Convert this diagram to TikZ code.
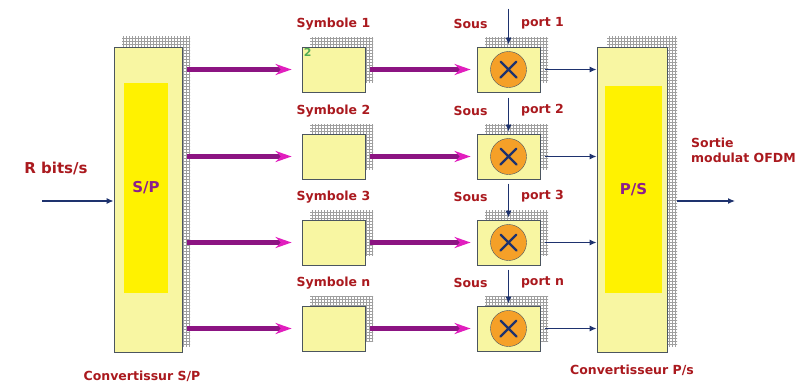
\documentclass[tikz,border=0pt]{standalone}
\usepackage{fontspec}
\setmainfont{DejaVu Sans}
\usepackage{tikz}
\usetikzlibrary{arrows.meta,patterns,positioning}

\definecolor{boxfill}{RGB}{248,246,162}
\definecolor{boxedge}{RGB}{75,85,95}
\definecolor{lblred}{RGB}{170,25,30}
\definecolor{purpleline}{RGB}{140,20,130}
\definecolor{pinkhead}{RGB}{225,30,190}
\definecolor{navy}{RGB}{30,50,110}
\definecolor{orangedisc}{RGB}{245,160,40}
\definecolor{sptext}{RGB}{140,30,140}

\begin{document}
\begin{tikzpicture}[x=1pt,y=-1pt,>=latex]
\tikzstyle{block} = [draw=boxedge, fill=boxfill, line width=0.8pt, rectangle, minimum width=63pt, minimum height=45pt, inner sep=0pt]
\tikzstyle{conv} = [block, minimum width=68pt, minimum height=305pt]
\tikzstyle{core} = [fill=yellow, rectangle, inner sep=0pt, text=sptext, font=\bfseries\fontsize{15}{17}\selectfont]
\tikzstyle{disc} = [draw=boxedge, fill=orangedisc, circle, minimum size=36pt, inner sep=0pt]
\tikzstyle{lbl} = [text=lblred, font=\bfseries\fontsize{12.5}{15}\selectfont, inner sep=1pt]
\tikzstyle{hatch} = [pattern=grid, pattern color=gray!75]
\tikzstyle{fat} = [line width=5pt, purpleline, -{Stealth[length=16pt,width=11pt,color=pinkhead]}]
\tikzstyle{thin} = [line width=1.2pt, navy, -{Latex[length=7pt,width=6pt]}]

\useasboundingbox (0,0) rectangle (805,383);

% shadows first, boxes on top
\fill[hatch] (122,36) rectangle (190,346);
\fill[hatch] (607,36) rectangle (677,346);
\node [conv] (sp) at (148,199.5) {};
\node [conv, minimum width=70pt] (ps) at (632,199.5) {};
\node [core, minimum width=44pt, minimum height=210pt] (spcore) at (146,188) {S/P};
\node [core, minimum width=57pt, minimum height=207pt] (pscore) at (633.5,189.5) {P/S};

\fill[hatch] (310,37) rectangle (373,82);
\fill[hatch] (310,124) rectangle (373,169);
\fill[hatch] (310,210) rectangle (373,255);
\fill[hatch] (310,296) rectangle (373,341);
\node [block] (sym1) at (333.5,69.5) {};
\node [block] (sym2) at (333.5,156.5) {};
\node [block] (sym3) at (333.5,242.5) {};
\node [block] (symn) at (333.5,328.5) {};
\node [text=green!35!gray, font=\bfseries\fontsize{11}{13}\selectfont, anchor=north west, inner sep=2pt] (two) at (sym1.north west) {2};

\fill[hatch] (485,37) rectangle (548,82);
\fill[hatch] (485,124) rectangle (548,169);
\fill[hatch] (485,210) rectangle (548,255);
\fill[hatch] (485,296) rectangle (548,341);
\node [block] (mult1) at (508.5,69.5) {};
\node [block] (mult2) at (508.5,156.5) {};
\node [block] (mult3) at (508.5,242.5) {};
\node [block] (multn) at (508.5,328.5) {};
\node [disc] (x1) at (mult1) {};
\node [disc] (x2) at (mult2) {};
\node [disc] (x3) at (mult3) {};
\node [disc] (xn) at (multn) {};
\draw[navy, line width=2.2pt, line cap=round]
  (x1.north west) ++(5,5) -- ++(16,16) (x1.north east) ++(-5,5) -- ++(-16,16)
  (x2.north west) ++(5,5) -- ++(16,16) (x2.north east) ++(-5,5) -- ++(-16,16)
  (x3.north west) ++(5,5) -- ++(16,16) (x3.north east) ++(-5,5) -- ++(-16,16)
  (xn.north west) ++(5,5) -- ++(16,16) (xn.north east) ++(-5,5) -- ++(-16,16);

% labels
\node [lbl, font=\bfseries\fontsize{15}{18}\selectfont] (rbits) at (56,168) {R bits/s};
\node [lbl] (spname) at (142,376) {Convertissur S/P};
\node [lbl] (psname) at (632,370) {Convertisseur P/s};
\node [lbl, anchor=west] (sortie) at (690,143) {Sortie};
\node [lbl, below=3pt of sortie.south west, anchor=north west] (modul) {modulat OFDM};
\node [lbl, above=15pt of sym1] (sname1) {Symbole 1};
\node [lbl, above=15pt of sym2] (sname2) {Symbole 2};
\node [lbl, above=15pt of sym3] (sname3) {Symbole 3};
\node [lbl, above=15pt of symn] (snamen) {Symbole n};
\node [lbl] (sous1) at ([xshift=-38pt,yshift=23pt]mult1.north) {Sous};
\node [lbl] (sous2) at ([xshift=-38pt,yshift=23pt]mult2.north) {Sous};
\node [lbl] (sous3) at ([xshift=-38pt,yshift=23pt]mult3.north) {Sous};
\node [lbl] (sousn) at ([xshift=-38pt,yshift=23pt]multn.north) {Sous};
\node [lbl] (port1) at ([xshift=34pt,yshift=23pt]mult1.north) {port 1};
\node [lbl] (port2) at ([xshift=34pt,yshift=23pt]mult2.north) {port 2};
\node [lbl] (port3) at ([xshift=34pt,yshift=23pt]mult3.north) {port 3};
\node [lbl] (portn) at ([xshift=34pt,yshift=23pt]multn.north) {port n};

% input and output ends
\coordinate (input) at (42,201);
\coordinate (output) at (735,201);
\coordinate (c1) at ([yshift=38pt]mult1.north);
\coordinate (c2) at ([yshift=36pt]mult2.north);
\coordinate (c3) at ([yshift=36pt]mult3.north);
\coordinate (cn) at ([yshift=36pt]multn.north);

% connectors
\draw [thin] (input) -- (sp.west |- input);
\draw [thin] ([xshift=10pt]ps.east |- output) -- (output);
\draw [fat, shorten <=5pt, shorten >=10pt] (sp.east |- sym1) -- (sym1);
\draw [fat, shorten <=5pt, shorten >=10pt] (sp.east |- sym2) -- (sym2);
\draw [fat, shorten <=5pt, shorten >=10pt] (sp.east |- sym3) -- (sym3);
\draw [fat, shorten <=5pt, shorten >=10pt] (sp.east |- symn) -- (symn);
\draw [fat, shorten <=5pt, shorten >=6pt] (sym1) -- (mult1);
\draw [fat, shorten <=5pt, shorten >=6pt] (sym2) -- (mult2);
\draw [fat, shorten <=5pt, shorten >=6pt] (sym3) -- (mult3);
\draw [fat, shorten <=5pt, shorten >=6pt] (symn) -- (multn);
\draw [thin, shorten <=5pt] (mult1) -- (ps.west |- mult1);
\draw [thin, shorten <=5pt] (mult2) -- (ps.west |- mult2);
\draw [thin, shorten <=5pt] (mult3) -- (ps.west |- mult3);
\draw [thin, shorten <=5pt] (multn) -- (ps.west |- multn);
\draw [thin] (c1) -- ([yshift=2pt]mult1.north);
\draw [thin] (c2) -- ([yshift=2pt]mult2.north);
\draw [thin] (c3) -- ([yshift=2pt]mult3.north);
\draw [thin] (cn) -- ([yshift=2pt]multn.north);

\end{tikzpicture}
\end{document}
